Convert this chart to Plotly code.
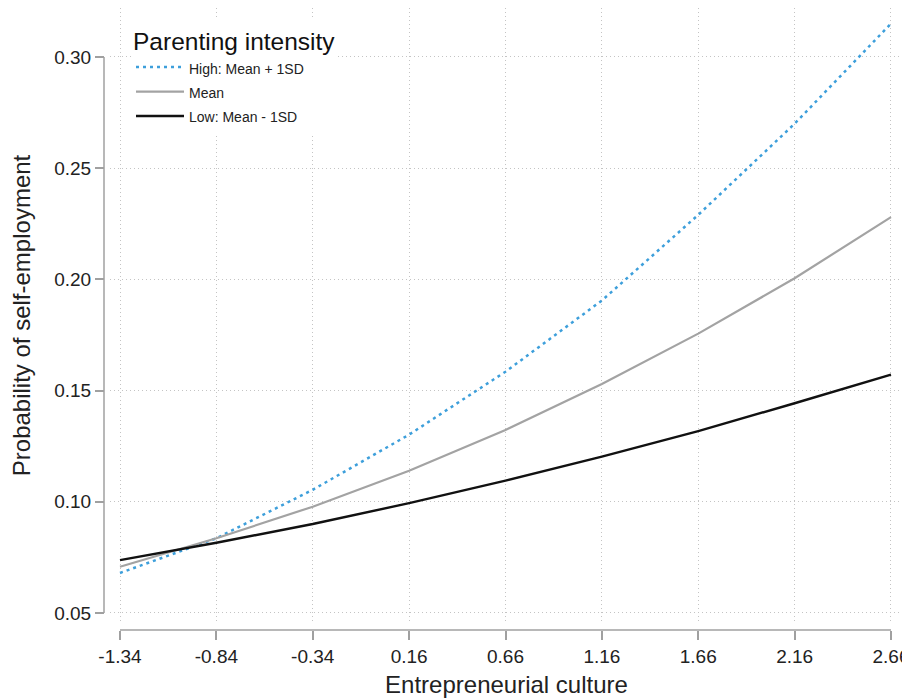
import plotly.graph_objects as go

# ---- data ----
x_ticks = [-1.34, -0.84, -0.34, 0.16, 0.66, 1.16, 1.66, 2.16, 2.66]
x_labels = ["-1.34", "-0.84", "-0.34", "0.16", "0.66", "1.16", "1.66", "2.16", "2.66"]
y_ticks = [0.05, 0.10, 0.15, 0.20, 0.25, 0.30]
y_labels = ["0.05", "0.10", "0.15", "0.20", "0.25", "0.30"]

culture = x_ticks
high_vals = [0.068, 0.0836, 0.1054, 0.1302, 0.1585, 0.1905, 0.2290, 0.2700, 0.3150]
mean_vals = [0.0708, 0.0836, 0.0978, 0.1140, 0.1323, 0.1530, 0.1756, 0.2005, 0.2280]
low_vals = [0.0738, 0.0816, 0.0900, 0.0994, 0.1095, 0.1203, 0.1318, 0.1443, 0.1572]

series_names = ["High: Mean + 1SD", "Mean", "Low: Mean - 1SD"]
legend_title = "Parenting intensity"
x_title = "Entrepreneurial culture"
y_title = "Probability of self-employment"

FONT = "Liberation Sans, Arial, Helvetica, sans-serif"
# the page body has an 8px margin, so the figure fills the rest of the window
OFF = 8
W, H = 910 - OFF, 698 - OFF

def px_x(p):  # screen pixel -> paper fraction
    return (p - OFF) / W

def px_y(p):
    return 1 - (p - OFF) / H

fig = go.Figure()

styles = [
    dict(color="#3d9fdb", width=2.5, dash="3px,4px"),
    dict(color="#a3a3a3", width=2.2, dash="solid"),
    dict(color="#111111", width=2.4, dash="solid"),
]
for name, vals, st in zip(series_names, [high_vals, mean_vals, low_vals], styles):
    fig.add_trace(go.Scatter(
        x=culture, y=vals, mode="lines",
        name=f'<span style="font-size:14px">{name}</span>',
        line=st, hoverinfo="skip",
    ))

# axis geometry (screen pixels -> paper)
x_axis_pos = px_y(630)
y_axis_pos = px_x(104)

grid = dict(showgrid=True, gridcolor="#c4c4c4", gridwidth=1, griddash="1px,3px")
tick = dict(ticks="outside", ticklen=9, tickwidth=1.5, tickcolor="#a0a0a0",
            tickfont=dict(size=19, color="#222222"))

fig.update_layout(
    width=W, height=H, autosize=False,
    margin=dict(l=0, r=0, t=0, b=0, pad=0),
    paper_bgcolor="white", plot_bgcolor="white",
    font=dict(family=FONT, color="#222222"),
    xaxis=dict(
        domain=[px_x(110), px_x(903)],
        range=[-1.3919, 2.7223],
        anchor="free", position=x_axis_pos,
        tickmode="array", tickvals=x_ticks, ticktext=x_labels,
        showline=False, zeroline=False, automargin=False,
        title=dict(text=x_title, font=dict(size=24, color="#222222"), standoff=10),
        **grid, **tick,
    ),
    yaxis=dict(
        domain=[px_y(623), px_y(8)],
        range=[0.04550, 0.32203],
        anchor="free", position=y_axis_pos,
        tickmode="array", tickvals=y_ticks, ticktext=y_labels,
        showline=False, zeroline=False, automargin=False,
        title=dict(text=y_title, font=dict(size=24, color="#222222"), standoff=18),
        **grid, **tick,
    ),
    legend=dict(
        title=dict(text=legend_title, font=dict(size=24.5, color="#111111"), side="top"),
        x=px_x(131), y=px_y(18), xanchor="left", yanchor="top",
        bgcolor="white", borderwidth=0,
        font=dict(size=16.5, color="#222222"),
        itemwidth=48, tracegroupgap=0,
    ),
    showlegend=True,
)

# detached axis lines spanning first to last tick
fig.add_shape(type="line", xref="x", yref="paper",
              x0=x_ticks[0], x1=x_ticks[-1], y0=x_axis_pos, y1=x_axis_pos,
              line=dict(color="#a0a0a0", width=1.5))
fig.add_shape(type="line", xref="paper", yref="y",
              x0=y_axis_pos, x1=y_axis_pos, y0=y_ticks[0], y1=y_ticks[-1],
              line=dict(color="#a0a0a0", width=1.5))

fig.write_html("out.html")
